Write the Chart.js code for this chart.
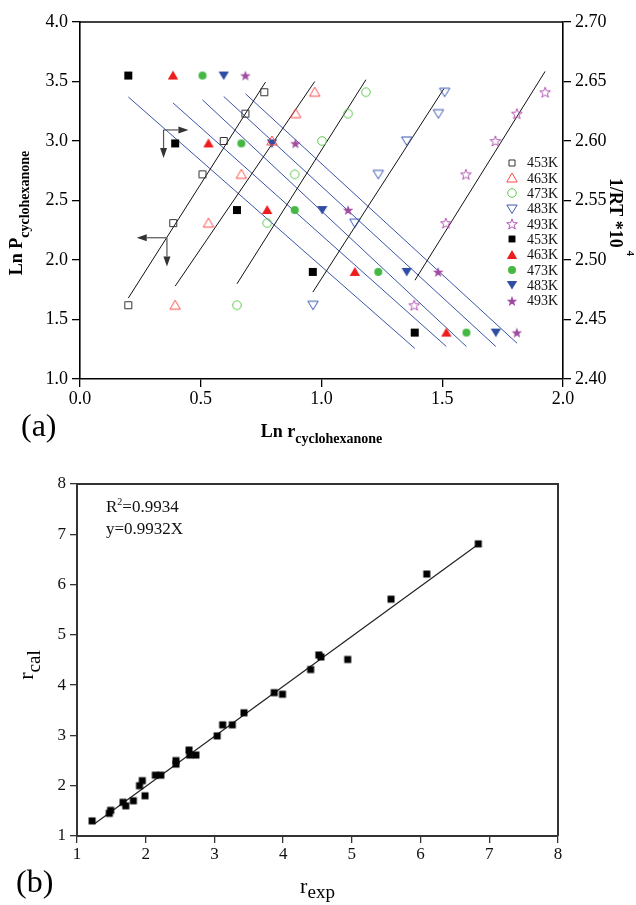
<!DOCTYPE html>
<html>
<head>
<meta charset="utf-8">
<title>Ln P vs Ln r / r_cal vs r_exp</title>
<script src="https://cdn.jsdelivr.net/npm/chart.js@4.4.1/dist/chart.umd.min.js"></script>
<style>
  html, body { margin: 0; padding: 0; background: #fff; }
  #wrap { position: relative; width: 636px; height: 905px; }
  canvas { position: absolute; left: 0; }
  #chartA { top: 0; }
  #chartB { top: 455px; }
</style>
</head>
<body>
<div id="wrap">
  <canvas id="chartA" width="636" height="455"></canvas>
  <canvas id="chartB" width="636" height="450"></canvas>
</div>
<script>
// ---------------------------------------------------------------------------
// Data (a): Ln P vs Ln r (open, left axis) and 1/RT*10^4 vs Ln r (filled, right axis)
// ---------------------------------------------------------------------------
const tempLabels = ['453K', '463K', '473K', '483K', '493K'];
const lnP = [1.62, 2.31, 2.72, 3.00, 3.23, 3.41];
const lnR453 = [0.200, 0.386, 0.507, 0.595, 0.685, 0.763];
const lnR463 = [0.394, 0.532, 0.668, 0.795, 0.893, 0.972];
const lnR473 = [0.650, 0.775, 0.889, 1.002, 1.110, 1.184];
const lnR483 = [0.965, 1.138, 1.235, 1.353, 1.484, 1.510];
const lnR493 = [1.384, 1.515, 1.598, 1.720, 1.809, 1.926];

const invRT = [2.655, 2.598, 2.542, 2.490, 2.439];
const lnRf453 = [0.200, 0.394, 0.650, 0.964, 1.386];
const lnRf463 = [0.385, 0.532, 0.775, 1.138, 1.517];
const lnRf473 = [0.507, 0.668, 0.889, 1.235, 1.600];
const lnRf483 = [0.595, 0.795, 1.003, 1.353, 1.722];
const lnRf493 = [0.685, 0.892, 1.110, 1.483, 1.809];

// fitted lines, end points
const openFitX = [[0.200, 0.768], [0.394, 0.972], [0.650, 1.184], [0.964, 1.507], [1.387, 1.926]];
const openFitY = [[1.68, 3.495], [1.78, 3.50], [1.80, 3.515], [1.73, 3.44], [1.83, 3.585]];
const filledFitX = [[0.200, 1.387], [0.385, 1.517], [0.507, 1.600], [0.595, 1.722], [0.685, 1.810]];
const filledFitY = [[2.637, 2.4256], [2.632, 2.4273], [2.6346, 2.4273], [2.6374, 2.4273], [2.6397, 2.4300]];

// axis-pointing arrows (data units of x / left y)
const arrowCorner = [[0.346, 3.093], [0.360, 2.187]];
const arrowTipH = [[0.449, 3.093], [0.235, 2.187]];
const arrowTipV = [[0.346, 2.857], [0.360, 1.945]];

const lnRTicks = [0.0, 0.5, 1.0, 1.5, 2.0];
const lnPTicks = [1.0, 1.5, 2.0, 2.5, 3.0, 3.5, 4.0];
const invRTTicks = [2.40, 2.45, 2.50, 2.55, 2.60, 2.65, 2.70];

// ---------------------------------------------------------------------------
// Data (b): r_cal vs r_exp
// ---------------------------------------------------------------------------
const rExp = [1.22, 1.47, 1.49, 1.67, 1.71, 1.82, 1.91, 1.95, 1.99, 2.14, 2.22, 2.44, 2.44, 2.63, 2.64,
  2.73, 3.04, 3.12, 3.26, 3.43, 3.87, 3.99, 4.40, 4.52, 4.55, 4.94, 5.57, 6.09, 6.84];
const rCal = [1.30, 1.45, 1.51, 1.67, 1.60, 1.70, 2.00, 2.10, 1.80, 2.21, 2.21, 2.50, 2.43, 2.71, 2.61,
  2.61, 2.99, 3.21, 3.21, 3.45, 3.85, 3.82, 4.31, 4.60, 4.56, 4.51, 5.71, 6.21, 6.81];
const fitLineX = [1.26, 6.81];
const fitLineY = [1.25, 6.77];
const rTicks = [1, 2, 3, 4, 5, 6, 7, 8];

// ---------------------------------------------------------------------------
// Marker images
// ---------------------------------------------------------------------------
function marker(shape, color, filled, scale) {
  const k = scale || 1;
  const c = document.createElement('canvas');
  c.width = 16; c.height = 16;
  const g = c.getContext('2d');
  g.translate(8, 8);
  g.beginPath();
  if (shape === 'square') {
    const h = (filled ? 4 : 3.5) * k;
    g.rect(-h, -h, 2 * h, 2 * h);
  } else if (shape === 'circle') {
    g.arc(0, 0, (filled ? 4 : 4.3) * k, 0, Math.PI * 2);
  } else if (shape === 'up') {
    g.moveTo(0, -5 * k); g.lineTo(5.2 * k, 4 * k); g.lineTo(-5.2 * k, 4 * k); g.closePath();
  } else if (shape === 'down') {
    g.moveTo(0, 4.5 * k); g.lineTo(5.2 * k, -4 * k); g.lineTo(-5.2 * k, -4 * k); g.closePath();
  } else if (shape === 'star') {
    for (let i = 0; i < 10; i++) {
      const r = (i % 2 === 0 ? 5.6 : 2.3) * k;
      const a = -Math.PI / 2 + i * Math.PI / 5;
      const px = r * Math.cos(a), py = r * Math.sin(a) + 0.5;
      if (i === 0) g.moveTo(px, py); else g.lineTo(px, py);
    }
    g.closePath();
  }
  if (filled) {
    g.fillStyle = color; g.fill();
  } else {
    g.strokeStyle = color; g.lineWidth = 1; g.stroke();
  }
  return c;
}

const shapesOpen = ['square', 'up', 'circle', 'down', 'star'];
const colorsOpen = ['#333333', '#ff4a4a', '#5fc84f', '#3a56b0', '#b455b4'];
const colorsFilled = ['#000000', '#ee1c1c', '#44b843', '#2f4ea3', '#a04aa0'];
const markersOpen = shapesOpen.map((s, i) => marker(s, colorsOpen[i], false));
const markersFilled = shapesOpen.map((s, i) => marker(s, colorsFilled[i], true));
const legendOpen = shapesOpen.map((s, i) => marker(s, colorsOpen[i], false, s === 'square' ? 0.86 : 1));
const legendFilled = shapesOpen.map((s, i) => marker(s, colorsFilled[i], true, s === 'square' ? 0.86 : 1));

const openX = [lnR453, lnR463, lnR473, lnR483, lnR493];
const filledX = [lnRf453, lnRf463, lnRf473, lnRf483, lnRf493];

// ---------------------------------------------------------------------------
// Helpers
// ---------------------------------------------------------------------------
const SERIF = "'Liberation Serif', 'Times New Roman', serif";

function richText(ctx, parts, x, y, align) {
  ctx.textAlign = 'left';
  ctx.textBaseline = 'alphabetic';
  let total = 0;
  parts.forEach(p => { ctx.font = p.font; p.w = ctx.measureText(p.text).width; total += p.w; });
  let cx = align === 'center' ? x - total / 2 : x;
  parts.forEach(p => { ctx.font = p.font; ctx.fillText(p.text, cx, y + (p.dy || 0)); cx += p.w; });
}

function arrow(ctx, x1, y1, x2, y2) {
  const ang = Math.atan2(y2 - y1, x2 - x1);
  const len = 10, half = 3.5;
  ctx.beginPath();
  ctx.moveTo(x1, y1);
  ctx.lineTo(x2 - Math.cos(ang) * len, y2 - Math.sin(ang) * len);
  ctx.stroke();
  ctx.beginPath();
  ctx.moveTo(x2, y2);
  ctx.lineTo(x2 - Math.cos(ang) * len - Math.sin(ang) * half, y2 - Math.sin(ang) * len + Math.cos(ang) * half);
  ctx.lineTo(x2 - Math.cos(ang) * len + Math.sin(ang) * half, y2 - Math.sin(ang) * len - Math.cos(ang) * half);
  ctx.closePath();
  ctx.fill();
}

function fixedTicks(values) {
  return scale => { scale.ticks = values.map(v => ({ value: v })); };
}

// ---------------------------------------------------------------------------
// Chart (a)
// ---------------------------------------------------------------------------
const datasetsA = [];
openX.forEach((xs, i) => {
  datasetsA.push({
    label: tempLabels[i] + ' open',
    data: xs.map((x, j) => ({ x: x, y: lnP[j] })),
    yAxisID: 'y',
    pointStyle: markersOpen[i],
    showLine: false
  });
});
filledX.forEach((xs, i) => {
  datasetsA.push({
    label: tempLabels[i] + ' filled',
    data: xs.map((x, j) => ({ x: x, y: invRT[j] })),
    yAxisID: 'y2',
    pointStyle: markersFilled[i],
    showLine: false
  });
});
openFitX.forEach((xs, i) => {
  datasetsA.push({
    label: 'fit open ' + i,
    data: xs.map((x, j) => ({ x: x, y: openFitY[i][j] })),
    yAxisID: 'y',
    showLine: true,
    borderColor: '#111',
    borderWidth: 1,
    pointRadius: 0
  });
});
filledFitX.forEach((xs, i) => {
  datasetsA.push({
    label: 'fit filled ' + i,
    data: xs.map((x, j) => ({ x: x, y: filledFitY[i][j] })),
    yAxisID: 'y2',
    showLine: true,
    borderColor: '#3a55a8',
    borderWidth: 1,
    pointRadius: 0
  });
});

const gridA = { drawOnChartArea: false, drawTicks: true, tickLength: 8, color: '#000', lineWidth: 1.3 };
const borderA = { display: true, color: '#000', width: 1.6 };
const tickFontA = { family: SERIF, size: 18 };

const decorA = {
  id: 'decorA',
  afterDraw(chart) {
    const { ctx, chartArea: ca, scales } = chart;
    ctx.save();
    // top frame line
    ctx.strokeStyle = '#000';
    ctx.lineWidth = 1.6;
    ctx.beginPath();
    ctx.moveTo(ca.left, ca.top);
    ctx.lineTo(ca.right, ca.top);
    ctx.stroke();

    // arrows
    ctx.strokeStyle = '#555';
    ctx.fillStyle = '#333';
    ctx.lineWidth = 1.2;
    arrowCorner.forEach((c, i) => {
      const cx = scales.x.getPixelForValue(c[0]), cy = scales.y.getPixelForValue(c[1]);
      arrow(ctx, cx, cy, scales.x.getPixelForValue(arrowTipH[i][0]), scales.y.getPixelForValue(arrowTipH[i][1]));
      arrow(ctx, cx, cy, scales.x.getPixelForValue(arrowTipV[i][0]), scales.y.getPixelForValue(arrowTipV[i][1]));
    });

    // legend
    const items = [];
    tempLabels.forEach((t, i) => items.push({ img: legendOpen[i], text: t }));
    tempLabels.forEach((t, i) => items.push({ img: legendFilled[i], text: t }));
    ctx.fillStyle = '#111';
    ctx.font = '14px ' + SERIF;
    ctx.textAlign = 'left';
    ctx.textBaseline = 'middle';
    items.forEach((it, i) => {
      const ly = 162.5 + i * 15.35;
      ctx.drawImage(it.img, 512 - 8, Math.round(ly) - 8);
      ctx.fillText(it.text, 527, ly + 1);
    });

    // axis titles
    ctx.fillStyle = '#000';
    const bx = (ca.left + ca.right) / 2;
    richText(ctx, [
      { text: 'Ln r', font: 'bold 18px ' + SERIF },
      { text: 'cyclohexanone', font: 'bold 14px ' + SERIF, dy: 6 }
    ], bx, 437, 'center');

    ctx.save();
    ctx.translate(22, 213);
    ctx.rotate(-Math.PI / 2);
    richText(ctx, [
      { text: 'Ln P', font: 'bold 18px ' + SERIF },
      { text: 'cyclohexanone', font: 'bold 14px ' + SERIF, dy: 7 }
    ], 0, 0, 'center');
    ctx.restore();

    ctx.save();
    ctx.translate(610, 178);
    ctx.rotate(Math.PI / 2);
    richText(ctx, [
      { text: '1/RT *10', font: 'bold 18px ' + SERIF },
      { text: ' 4', font: 'bold 11px ' + SERIF, dy: -17 }
    ], 0, 0, 'left');
    ctx.restore();

    ctx.font = '32px ' + SERIF;
    ctx.textAlign = 'left';
    ctx.textBaseline = 'alphabetic';
    ctx.fillText('(a)', 21, 436);
    ctx.restore();
  }
};

new Chart(document.getElementById('chartA'), {
  type: 'scatter',
  data: { datasets: datasetsA },
  options: {
    responsive: false,
    animation: false,
    layout: { padding: { top: 22, left: 0, right: 0, bottom: 0 } },
    plugins: { legend: { display: false }, tooltip: { enabled: false } },
    scales: {
      x: {
        type: 'linear', position: 'bottom', min: 0, max: 2,
        afterFit: s => { s.height = 76; },
        afterBuildTicks: fixedTicks(lnRTicks),
        ticks: { callback: v => v.toFixed(1), font: tickFontA, color: '#000', padding: 1, maxRotation: 0 },
        grid: gridA, border: borderA
      },
      y: {
        type: 'linear', position: 'left', min: 1, max: 4,
        afterFit: s => { s.width = 80; },
        afterBuildTicks: fixedTicks(lnPTicks),
        ticks: { callback: v => v.toFixed(1), font: tickFontA, color: '#000', padding: 4 },
        grid: gridA, border: borderA
      },
      y2: {
        type: 'linear', position: 'right', min: 2.40, max: 2.70,
        afterFit: s => { s.width = 73; },
        afterBuildTicks: fixedTicks(invRTTicks),
        ticks: { callback: v => v.toFixed(2), font: tickFontA, color: '#000', padding: 4 },
        grid: gridA, border: borderA
      }
    }
  },
  plugins: [decorA]
});

// ---------------------------------------------------------------------------
// Chart (b)
// ---------------------------------------------------------------------------
const squareB = (() => {
  const c = document.createElement('canvas');
  c.width = 12; c.height = 12;
  const g = c.getContext('2d');
  g.fillStyle = '#000';
  g.fillRect(2.5, 2.5, 7, 7);
  return c;
})();

const gridB = { drawOnChartArea: false, drawTicks: true, tickLength: 7, color: '#333', lineWidth: 1.3 };
const borderB = { display: true, color: '#333', width: 2 };
const tickFontB = { family: SERIF, size: 17 };

const decorB = {
  id: 'decorB',
  afterDraw(chart) {
    const { ctx, chartArea: ca } = chart;
    ctx.save();
    ctx.strokeStyle = '#333';
    ctx.lineWidth = 2;
    ctx.beginPath();
    ctx.moveTo(ca.left, ca.top);
    ctx.lineTo(ca.right, ca.top);
    ctx.lineTo(ca.right, ca.bottom);
    ctx.stroke();

    ctx.fillStyle = '#111';
    richText(ctx, [
      { text: 'R', font: '17px ' + SERIF },
      { text: '2', font: '10px ' + SERIF, dy: -7 },
      { text: '=0.9934', font: '17px ' + SERIF }
    ], 106, 512 - 455, 'left');
    richText(ctx, [{ text: 'y=0.9932X', font: '17px ' + SERIF }], 106, 534 - 455, 'left');

    ctx.fillStyle = '#000';
    richText(ctx, [
      { text: 'r', font: '22px ' + SERIF },
      { text: 'exp', font: '19px ' + SERIF, dy: 5 }
    ], (ca.left + ca.right) / 2, 893 - 455, 'center');

    ctx.save();
    ctx.translate(33, 665 - 455);
    ctx.rotate(-Math.PI / 2);
    richText(ctx, [
      { text: 'r', font: '22px ' + SERIF },
      { text: 'cal', font: '19px ' + SERIF, dy: 7 }
    ], 0, 0, 'center');
    ctx.restore();

    ctx.font = '32px ' + SERIF;
    ctx.textAlign = 'left';
    ctx.textBaseline = 'alphabetic';
    ctx.fillText('(b)', 16, 892 - 455);
    ctx.restore();
  }
};

new Chart(document.getElementById('chartB'), {
  type: 'scatter',
  data: {
    datasets: [
      {
        label: 'r_cal',
        data: rExp.map((x, i) => ({ x: x, y: rCal[i] })),
        pointStyle: squareB,
        showLine: false
      },
      {
        label: 'fit',
        data: fitLineX.map((x, i) => ({ x: x, y: fitLineY[i] })),
        showLine: true,
        borderColor: '#222',
        borderWidth: 1.2,
        pointRadius: 0
      }
    ]
  },
  options: {
    responsive: false,
    animation: false,
    layout: { padding: { top: 29, left: 0, right: 78, bottom: 0 } },
    plugins: { legend: { display: false }, tooltip: { enabled: false } },
    scales: {
      x: {
        type: 'linear', position: 'bottom', min: 1, max: 8,
        afterFit: s => { s.height = 69; },
        afterBuildTicks: fixedTicks(rTicks),
        ticks: { font: tickFontB, color: '#111', padding: 1, maxRotation: 0 },
        grid: gridB, border: borderB
      },
      y: {
        type: 'linear', position: 'left', min: 1, max: 8,
        afterFit: s => { s.width = 77; },
        afterBuildTicks: fixedTicks(rTicks),
        ticks: { font: tickFontB, color: '#111', padding: 4 },
        grid: gridB, border: borderB
      }
    }
  },
  plugins: [decorB]
});
</script>
</body>
</html>
